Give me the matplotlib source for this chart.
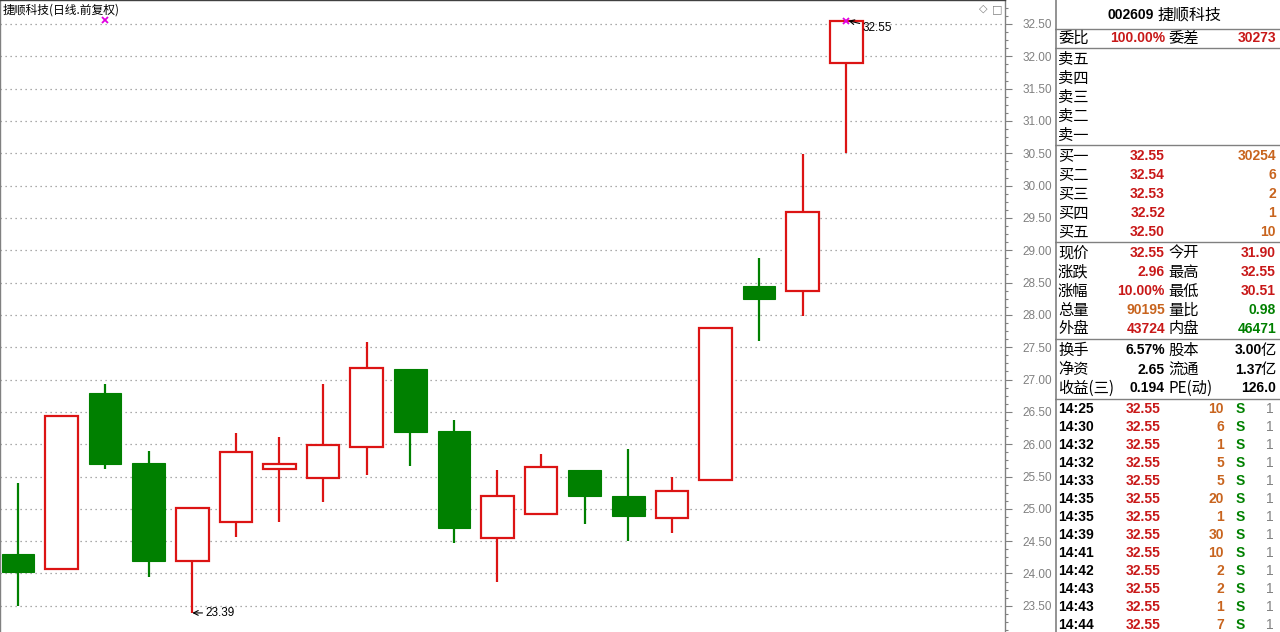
import matplotlib
matplotlib.use("Agg")
import matplotlib.pyplot as plt
from matplotlib.ticker import MultipleLocator, FormatStrFormatter

# ---------------- data ----------------
opens  = [24.30, 24.07, 26.79, 25.71, 24.19, 24.79, 25.61, 25.48, 25.95, 27.16,
          26.20, 24.55, 24.92, 25.60, 25.20, 24.86, 25.45, 28.45, 28.37, 31.90]
closes = [24.02, 26.43, 25.70, 24.20, 25.02, 25.88, 25.70, 25.99, 27.18, 26.19,
          24.71, 25.20, 25.64, 25.20, 24.89, 25.27, 27.80, 28.25, 29.59, 32.55]
highs  = [25.40, 26.43, 26.93, 25.90, 25.02, 26.18, 26.11, 26.93, 27.58, 27.16,
          26.37, 25.60, 25.85, 25.60, 25.93, 25.49, 27.80, 28.88, 30.49, 32.55]
lows   = [23.50, 24.07, 25.61, 23.95, 23.39, 24.57, 24.79, 25.10, 25.52, 25.67,
          24.47, 23.87, 24.92, 24.77, 24.50, 24.62, 25.45, 27.59, 27.99, 30.51]
event_idx = [2]
event_price = [32.56]

title_text = "捷顺科技(日线.前复权)"
stock_code = "002609"
stock_name = "捷顺科技"

wei_row = ["委比", "100.00%", "委差", "30273"]
sell_labels = ["卖五", "卖四", "卖三", "卖二", "卖一"]
buy_labels = ["买一", "买二", "买三", "买四", "买五"]
buy_prices = ["32.55", "32.54", "32.53", "32.52", "32.50"]
buy_vols = ["30254", "6", "2", "1", "10"]

quote_l_labels = ["现价", "涨跌", "涨幅", "总量", "外盘"]
quote_l_values = ["32.55", "2.96", "10.00%", "90195", "43724"]
quote_r_labels = ["今开", "最高", "最低", "量比", "内盘"]
quote_r_values = ["31.90", "32.55", "30.51", "0.98", "46471"]

fin_l_labels = ["换手", "净资", "收益(三)"]
fin_l_values = ["6.57%", "2.65", "0.194"]
fin_r_labels = ["股本", "流通", "PE(动)"]
fin_r_values = ["3.00亿", "1.37亿", "126.0"]

trade_times = ["14:25", "14:30", "14:32", "14:32", "14:33", "14:35", "14:35",
               "14:39", "14:41", "14:42", "14:43", "14:43", "14:44"]
trade_prices = ["32.55"] * 13
trade_vols = ["10", "6", "1", "5", "5", "20", "1", "30", "10", "2", "2", "1", "7"]
trade_side = ["S"] * 13
trade_cnt = ["1"] * 13

# ---------------- style ----------------
RED = "#dc1414"
GREEN = "#008000"
TXT_RED = "#c81818"
ORANGE = "#c8641e"
GRAY = "#808080"
CJK = ["Noto Sans CJK SC", "DejaVu Sans"]
NUM = ["Liberation Sans", "DejaVu Sans"]

W, H = 1280, 632
fig = plt.figure(figsize=(W / 100, H / 100), dpi=100)
fig.patch.set_facecolor("white")

# ---------------- main chart ----------------
ax = fig.add_axes([0, 0, 1005 / W, 1])
ax.set_xlim(-0.41, 22.64)
ax.set_ylim(23.095, 32.871)

idx = list(range(len(opens)))
bw = 0.75
for i in idx:
    o, c, h, l = opens[i], closes[i], highs[i], lows[i]
    if c >= o:
        top, bot = c, o
        if h > top:
            ax.vlines(i, top, h, color=RED, lw=1.6, zorder=2)
        if l < bot:
            ax.vlines(i, l, bot, color=RED, lw=1.6, zorder=2)
        ax.bar(i, top - bot, bottom=bot, width=bw, facecolor="white",
               edgecolor=RED, linewidth=1.6, zorder=3)
    else:
        ax.vlines(i, l, h, color=GREEN, lw=1.6, zorder=2)
        ax.bar(i, o - c, bottom=c, width=bw, facecolor=GREEN,
               edgecolor=GREEN, linewidth=0.8, zorder=3)

# grid
ax.yaxis.set_major_locator(MultipleLocator(0.5))
ax.yaxis.set_minor_locator(MultipleLocator(0.125))
ax.grid(axis="y", which="major", color="#909090", linestyle=(0, (1, 3)), lw=0.9)
ax.set_axisbelow(True)
ax.set_xticks([])

ax.yaxis.tick_right()
ax.yaxis.set_major_formatter(FormatStrFormatter("%.2f"))
ax.tick_params(axis="y", which="major", direction="out", length=5, width=0.8,
               color=GRAY, pad=28.8, labelsize=8.5, labelcolor=GRAY)
ax.tick_params(axis="y", which="minor", direction="out", length=2.5, width=0.8,
               color=GRAY)
for lab in ax.get_yticklabels():
    lab.set_horizontalalignment("right")
    lab.set_fontfamily(NUM)

for s in ["left", "right", "top", "bottom"]:
    ax.spines[s].set_color(GRAY)
    ax.spines[s].set_linewidth(1.0)
ax.spines["top"].set_color("#404040")
ax.spines["bottom"].set_visible(False)

# title
ax.text(3 / 1005, 1 - 10 / H, title_text, transform=ax.transAxes, ha="left",
        va="center", fontsize=8.5, family=CJK, color="black")
ax.text(1 - 22 / 1005, 1 - 9 / H, "◇", transform=ax.transAxes, ha="center",
        va="center", fontsize=8, color=GRAY, family=["DejaVu Sans"])
ax.text(1 - 8 / 1005, 1 - 9 / H, "□", transform=ax.transAxes, ha="center",
        va="center", fontsize=8, color=GRAY, family=["DejaVu Sans"])

# markers
ax.plot(event_idx, event_price, marker="x", ms=4, mew=1.3, color="#e000e0",
        ls="none", zorder=5)
hi_i = max(idx, key=lambda k: highs[k])
lo_i = min(idx, key=lambda k: lows[k])
ax.plot([hi_i], [highs[hi_i]], marker="x", ms=4, mew=1.3, color="#e000e0",
        ls="none", zorder=5)
ax.annotate(f"{highs[hi_i]:.2f}", xy=(hi_i + 0.05, highs[hi_i]),
            xytext=(14, -7), textcoords="offset pixels", ha="left", va="center",
            fontsize=8.5, family=NUM, color="black",
            arrowprops=dict(arrowstyle="->", color="black", lw=0.8,
                            shrinkA=0, shrinkB=0))
ax.annotate(f"{lows[lo_i]:.2f}", xy=(lo_i, lows[lo_i]),
            xytext=(13, 0), textcoords="offset pixels", ha="left", va="center",
            fontsize=8.5, family=NUM, color="black",
            arrowprops=dict(arrowstyle="->", color="black", lw=0.8,
                            shrinkA=0, shrinkB=0))

# ---------------- right panel ----------------
pa = fig.add_axes([1055 / W, 0, 225 / W, 1])
pa.set_xlim(0, 225)
pa.set_ylim(H, 0)
pa.axis("off")
pa.axvline(1, color=GRAY, lw=1.2)
for yy in [29, 48, 145, 242, 339, 399]:
    pa.axhline(yy, color=GRAY, lw=1.0)

LX, PX, L2X, VX = 3, 110, 113, 221
CJK_FS = 11
NUM_FS = 10


def lab(x, y, s, ha="left", color="black"):
    pa.text(x, y, s, ha=ha, va="center", fontsize=CJK_FS, family=CJK, color=color)


def num(x, y, s, color, ha="right", bold=True):
    pa.text(x, y, s, ha=ha, va="center", fontsize=NUM_FS, family=NUM,
            fontweight="bold" if bold else "normal", color=color)


num(99, 15, stock_code, "black")
pa.text(103, 15, stock_name, ha="left", va="center", fontsize=11.5, family=CJK,
        color="black")

lab(LX, 38, wei_row[0])
num(PX, 38, wei_row[1], TXT_RED)
lab(L2X, 38, wei_row[2])
num(VX, 38, wei_row[3], TXT_RED)

for k, s in enumerate(sell_labels):
    lab(LX, 59 + 19 * k, s)

for k, s in enumerate(buy_labels):
    y = 156 + 19 * k
    lab(LX, y, s)
    num(PX, y, buy_prices[k], TXT_RED)
    num(VX, y, buy_vols[k], ORANGE)

quote_l_colors = [TXT_RED, TXT_RED, TXT_RED, ORANGE, TXT_RED]
quote_r_colors = [TXT_RED, TXT_RED, TXT_RED, GREEN, GREEN]
for k in range(5):
    y = 253 + 19 * k
    lab(LX, y, quote_l_labels[k])
    num(PX, y, quote_l_values[k], quote_l_colors[k])
    lab(L2X, y, quote_r_labels[k])
    num(VX, y, quote_r_values[k], quote_r_colors[k])

for k in range(3):
    y = 350.5 + 19 * k
    lab(LX, y, fin_l_labels[k])
    num(PX, y, fin_l_values[k], "black")
    lab(L2X, y, fin_r_labels[k])
    v = fin_r_values[k]
    if v.endswith("亿"):
        pa.text(VX, y, "亿", ha="right", va="center", fontsize=CJK_FS, family=CJK,
                color="black")
        num(VX - 14, y, v[:-1], "black")
    else:
        num(VX, y, v, "black")

for k in range(len(trade_times)):
    y = 409.3 + 17.97 * k
    num(LX, y, trade_times[k], "black", ha="left")
    num(106, y, trade_prices[k], TXT_RED)
    num(169, y, trade_vols[k], ORANGE)
    num(185, y, trade_side[k], GREEN, ha="center")
    num(219, y, trade_cnt[k], GRAY, bold=False)

fig.savefig("out.png", dpi=100, facecolor="white")
